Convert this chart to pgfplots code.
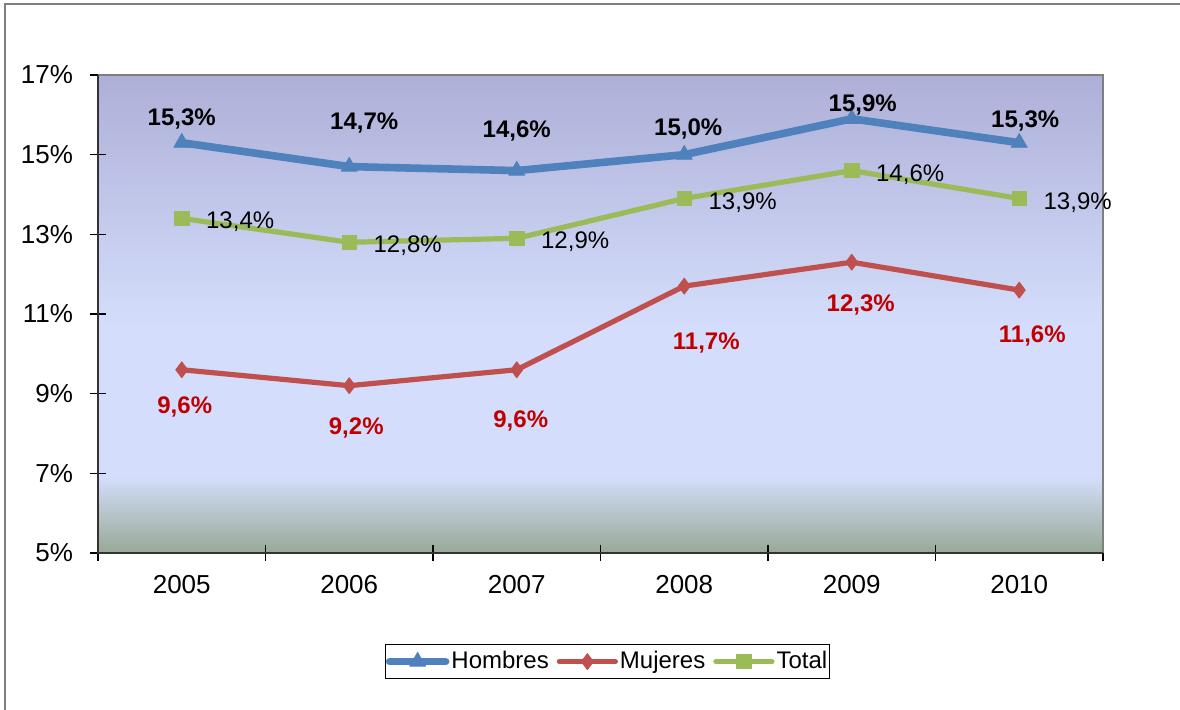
\documentclass[border=0pt]{standalone}
\usepackage{fontspec}
\setmainfont{Liberation Sans}
\usepackage{pgfplots}
\usepackage{pgfplotstable}
\pgfplotsset{compat=1.18}
\definecolor{hom}{HTML}{4F81BD}
\definecolor{muj}{HTML}{C0504D}
\definecolor{tot}{HTML}{9BBB59}
\definecolor{mujlab}{HTML}{C00000}
\definecolor{bgtop}{HTML}{AEAFD7}
\definecolor{bglight}{HTML}{D4DEFC}
\definecolor{bgbot}{HTML}{97A995}
\definecolor{framegray}{HTML}{7F7F7F}
\pgfdeclareverticalshading{plotbg}{100bp}{color(0bp)=(bgbot); color(25bp)=(bgbot); color(33bp)=(bglight); color(48.5bp)=(bglight); color(75bp)=(bgtop); color(100bp)=(bgtop)}

\pgfplotstableread{
x y dx dy
0 15.3 0 13
1 14.7 7.5 23
2 14.6 0 21
3 15.0 2 14
4 15.9 5.5 8
5 15.3 3 12
}\homtab
\pgfplotstableread{
x y dx dy
0 9.6 1.5 -17.5
1 9.2 3.5 -20
2 9.6 2 -24.5
3 11.7 11 -27.5
4 12.3 4.5 -20.5
5 11.6 6.5 -22
}\mujtab
\pgfplotstableread{
x y
0 13.4
1 12.8
2 12.9
3 13.9
4 14.6
5 13.9
}\tottab

\begin{document}
\begin{tikzpicture}
\useasboundingbox (0,0) rectangle (590pt,355pt);
\draw[framegray, line width=0.9pt] (2.5pt,0pt) -- (2.5pt,353pt) -- (590pt,353pt);
\begin{axis}[
  at={(49pt,78.5pt)}, anchor=south west,
  scale only axis, width=502.5pt, height=239pt,
  xmin=-0.5, xmax=5.5, ymin=5, ymax=17,
  xtick={-0.5,0.5,1.5,2.5,3.5,4.5,5.5}, xticklabels={},
  extra x ticks={0,1,2,3,4,5},
  extra x tick labels={2005,2006,2007,2008,2009,2010},
  extra x tick style={major tick length=0pt, tick style={draw=none}},
  ytick={5,7,9,11,13,15,17},
  xtick pos=bottom, ytick pos=left,
  yticklabel={\pgfmathprintnumber{\tick}\%},
  tick align=center, major tick length=8pt,
  tick style={black, line width=0.6pt},
  axis line style={draw=none},
  axis background/.style={shade, shading=plotbg},
  ticklabel style={font=\fontsize{13}{15}\selectfont},
  xticklabel style={yshift=-7.5pt},
  yticklabel style={xshift=-5pt},
  /pgf/number format/assume math mode=true,
  clip=false,
  legend columns=3,
  legend style={at={(0.507,-0.19)}, anchor=north, draw=black, line width=0.6pt,
    font=\fontsize{12}{14}\selectfont, inner xsep=0pt, inner ysep=1.5pt,
    nodes={inner xsep=1pt},
    /tikz/every even column/.append style={column sep=3pt}},
  legend image code/.code={\draw[mark repeat=2,mark phase=2,#1, line cap=round] plot coordinates {(0pt,0pt) (14pt,0pt) (28pt,0pt)};},
  nodes near coords={\pgfmathprintnumber[fixed, fixed zerofill, precision=1, use comma]{\pgfplotspointmeta}\%},
]
\addplot[hom, line width=3.8pt, line join=round, mark=triangle*, mark size=4.6pt,
  mark options={solid, line width=0.4pt},
  visualization depends on={\thisrow{dx}\as\dx},
  visualization depends on={\thisrow{dy}\as\dy},
  every node near coord/.append style={font=\bfseries\fontsize{12}{14}\selectfont, black,
    anchor=center, inner sep=0pt, text height=8.6pt, text depth=0pt, xshift=\dx pt, yshift=\dy pt}]
  table[x=x,y=y] {\homtab};
\addlegendentry{Hombres}
\addplot[muj, line width=2.6pt, line join=round, mark=diamond*, mark size=4pt,
  mark options={solid, line width=0.4pt},
  visualization depends on={\thisrow{dx}\as\dx},
  visualization depends on={\thisrow{dy}\as\dy},
  every node near coord/.append style={font=\bfseries\fontsize{12}{14}\selectfont, mujlab,
    anchor=center, inner sep=0pt, text height=8.6pt, text depth=0pt, xshift=\dx pt, yshift=\dy pt}]
  table[x=x,y=y] {\mujtab};
\addlegendentry{Mujeres}
\addplot[tot, line width=2.6pt, line join=round, mark=square*, mark size=3.6pt,
  mark options={solid, line width=0.4pt},
  every node near coord/.append style={font=\fontsize{12}{14}\selectfont, black,
    anchor=west, inner sep=0pt, text height=8.6pt, text depth=0pt, xshift=12pt, yshift=-1pt}]
  table[x=x,y=y] {\tottab};
\addlegendentry{Total}
\draw[framegray, line width=1.4pt] (rel axis cs:0,1) -- (rel axis cs:1,1) -- (rel axis cs:1,0);
\draw[black!80, line width=1pt] (rel axis cs:0,1) -- (rel axis cs:0,0) -- (rel axis cs:1,0);
\end{axis}
\end{tikzpicture}
\end{document}
